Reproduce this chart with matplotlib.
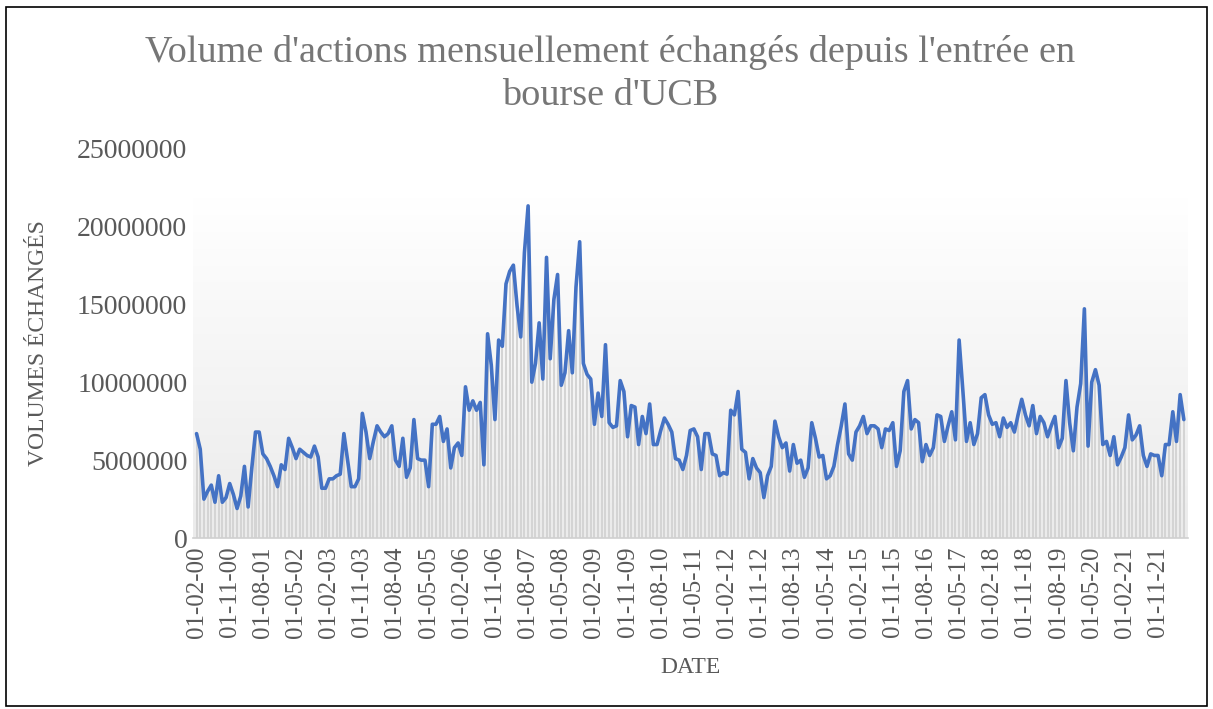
import numpy as np
import pandas as pd
import matplotlib
matplotlib.use('Agg')
import matplotlib.pyplot as plt
from matplotlib.colors import LinearSegmentedColormap
from matplotlib.patches import Rectangle

# --- DATA (monthly volumes, millions of shares, Feb 2000 -> Jun 2022) ---
START_MONTH = '2000-02-01'
volumes_m = [
    6.7, 5.7, 2.5, 3.0, 3.4, 2.3, 4.0, 2.3, 2.6, 3.5, 2.8, 1.9, 2.7, 4.6, 2.0, 4.5,
    6.8, 6.8, 5.4, 5.1, 4.6, 4.0, 3.3, 4.7, 4.4, 6.4, 5.8, 5.1, 5.7, 5.5, 5.3, 5.2,
    5.9, 5.2, 3.2, 3.2, 3.8, 3.8, 4.0, 4.1, 6.7, 5.0, 3.3, 3.3, 3.8, 8.0, 6.8, 5.1,
    6.2, 7.2, 6.8, 6.5, 6.7, 7.2, 5.0, 4.6, 6.4, 3.9, 4.5, 7.6, 5.1, 5.0, 5.0, 3.3,
    7.3, 7.3, 7.8, 6.2, 7.0, 4.5, 5.8, 6.1, 5.3, 9.7, 8.2, 8.8, 8.2, 8.7, 4.7, 13.1,
    11.1, 7.6, 12.7, 12.3, 16.3, 17.1, 17.5, 14.9, 12.9, 18.3, 21.3, 10.0, 11.2, 13.8, 10.2, 18.0,
    11.5, 15.3, 16.9, 9.8, 10.6, 13.3, 10.6, 16.1, 19.0, 11.2, 10.5, 10.2, 7.3, 9.3, 7.8, 12.4,
    7.4, 7.1, 7.2, 10.1, 9.4, 6.5, 8.5, 8.4, 6.0, 7.8, 6.7, 8.6, 6.0, 6.0, 6.9, 7.7,
    7.3, 6.8, 5.1, 5.0, 4.4, 5.3, 6.9, 7.0, 6.5, 4.4, 6.7, 6.7, 5.4, 5.3, 4.0, 4.2,
    4.1, 8.2, 7.9, 9.4, 5.7, 5.5, 3.8, 5.1, 4.5, 4.2, 2.6, 4.0, 4.6, 7.5, 6.5, 5.8,
    6.1, 4.3, 6.0, 4.8, 5.0, 3.9, 4.5, 7.4, 6.4, 5.2, 5.3, 3.8, 4.0, 4.6, 6.0, 7.2,
    8.6, 5.4, 5.0, 6.8, 7.2, 7.8, 6.7, 7.2, 7.2, 7.0, 5.8, 7.0, 6.9, 7.4, 4.6, 5.6,
    9.4, 10.1, 7.0, 7.6, 7.4, 4.9, 6.0, 5.3, 5.8, 7.9, 7.8, 6.2, 7.2, 8.1, 6.3, 12.7,
    9.5, 6.2, 7.4, 6.0, 6.7, 9.0, 9.2, 7.9, 7.3, 7.4, 6.5, 7.7, 7.1, 7.4, 6.8, 7.9,
    8.9, 7.9, 7.2, 8.5, 6.7, 7.8, 7.4, 6.5, 7.2, 7.8, 5.8, 6.4, 10.1, 7.4, 5.6, 8.4,
    9.9, 14.7, 5.9, 10.0, 10.8, 9.8, 6.0, 6.2, 5.3, 6.5, 4.7, 5.2, 5.8, 7.9, 6.3, 6.6,
    7.2, 5.3, 4.6, 5.4, 5.3, 5.3, 4.0, 6.0, 6.0, 8.1, 6.2, 9.2, 7.6,
]
y_ticks = [0, 5000000, 10000000, 15000000, 20000000, 25000000]
TICK_STEP = 9  # one label every 9 months

TITLE = "Volume d'actions mensuellement échangés depuis l'entrée en\nbourse d'UCB"
X_LABEL = 'DATE'
Y_LABEL = 'VOLUMES ÉCHANGÉS'

volumes = np.array(volumes_m) * 1e6
dates = pd.date_range(START_MONTH, periods=len(volumes), freq='MS')
idx = np.arange(len(volumes))

# --- PLOT ---
plt.rcParams['font.family'] = ['Liberation Serif', 'DejaVu Serif']
text_grey = '#595959'

fig = plt.figure(figsize=(12.13, 7.09), dpi=100)
ax = fig.add_axes([0.159, 0.241, 0.820, 0.550])

x0, x1 = -1, len(volumes)
ax.set_xlim(x0, x1)
ax.set_ylim(0, 25000000)

# plot area gradient (white at top -> light grey at bottom)
grad = np.linspace(0, 1, 256).reshape(-1, 1)
cmap = LinearSegmentedColormap.from_list('bg', ['#ffffff', '#ebebeb'])
ax.imshow(grad, cmap=cmap, aspect='auto', origin='upper',
          extent=[x0, x1, 0, volumes.max() * 1.025], zorder=0)

ax.bar(idx, volumes, width=0.55, color='#d4d4d4', linewidth=0, zorder=1)
ax.plot(idx, volumes, color='#4472C4', linewidth=2.6, zorder=3,
        solid_joinstyle='round', solid_capstyle='round')

ax.set_yticks(y_ticks)
ax.set_yticklabels([str(v) for v in y_ticks])
tick_pos = idx[::TICK_STEP]
ax.set_xticks(tick_pos)
ax.set_xticklabels([d.strftime('%d-%m-%y') for d in dates[::TICK_STEP]], rotation=90)

ax.tick_params(axis='y', length=0, labelsize=20, colors=text_grey, pad=4)
ax.tick_params(axis='x', length=0, labelsize=18, colors=text_grey, pad=6)

for side in ['top', 'right', 'left']:
    ax.spines[side].set_visible(False)
ax.spines['bottom'].set_color('#d0d0d0')
ax.spines['bottom'].set_linewidth(1.2)

ax.set_xlabel(X_LABEL, fontsize=17, color=text_grey, labelpad=14)
ax.set_ylabel(Y_LABEL, fontsize=17, color=text_grey, labelpad=20)

fig.text(0.503, 0.950, TITLE, ha='center', va='top', fontsize=27.5,
         color='#767676', linespacing=1.3)

# frame around the whole chart
fig.patches.append(Rectangle((0.005, 0.004), 0.99, 0.986, transform=fig.transFigure,
                             fill=False, edgecolor='black', linewidth=1.2))

fig.savefig('out.png', dpi=100)
